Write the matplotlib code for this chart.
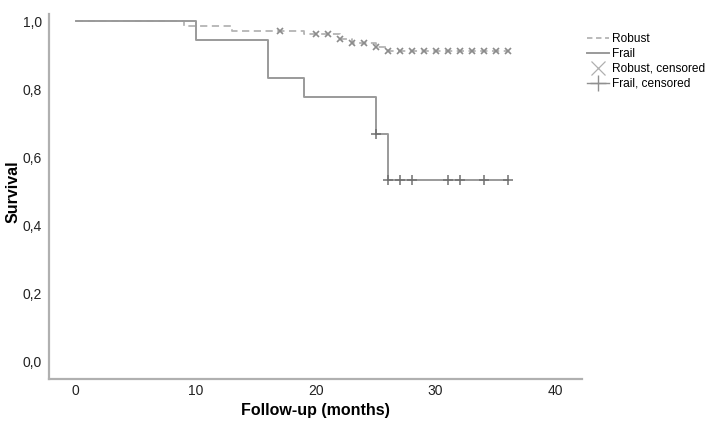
import matplotlib
matplotlib.use("Agg")
import matplotlib.pyplot as plt
from matplotlib.lines import Line2D

plt.rcParams['font.family'] = ['Liberation Sans', 'DejaVu Sans']

# Kaplan-Meier steps
robust_t = [0, 9, 13, 19, 22, 23, 25, 26, 36]
robust_s = [1.0, 0.986, 0.972, 0.961, 0.947, 0.935, 0.925, 0.912, 0.912]
robust_cens_t = [17, 20, 21, 22, 23, 24, 25, 26, 27, 28, 29, 30, 31, 32, 33, 34, 35, 36]
robust_cens_s = [0.972, 0.961, 0.961, 0.947, 0.935, 0.935, 0.925,
                 0.912, 0.912, 0.912, 0.912, 0.912, 0.912, 0.912, 0.912, 0.912, 0.912, 0.912]

frail_t = [0, 10, 16, 19, 25, 26, 36]
frail_s = [1.0, 0.944, 0.833, 0.778, 0.667, 0.533, 0.533]
frail_cens_t = [25, 26, 27, 28, 31, 32, 34, 36]
frail_cens_s = [0.667, 0.533, 0.533, 0.533, 0.533, 0.533, 0.533, 0.533]

x_ticks = [0, 10, 20, 30, 40]
y_ticks = [0.0, 0.2, 0.4, 0.6, 0.8, 1.0]
y_labels = ['0,0', '0,2', '0,4', '0,6', '0,8', '1,0']

fig = plt.figure(figsize=(7.08, 4.30), dpi=100)
ax = fig.add_axes([0.069, 0.119, 0.753, 0.848])

ax.step(robust_t, robust_s, where='post', color='#b4b4b4', lw=1.3,
        linestyle=(0, (4, 2.5)), zorder=2)
ax.step(frail_t, frail_s, where='post', color='#9a9a9a', lw=1.4, zorder=3)
ax.plot(robust_cens_t, robust_cens_s, 'x', color='#8c8c8c', ms=5, mew=1.2, zorder=4)
ax.plot(frail_cens_t, frail_cens_s, '+', color='#707070', ms=7, mew=1.1, zorder=4)

ax.set_xlim(-2.25, 42.2)
ax.set_ylim(-0.05, 1.02)
ax.set_xticks(x_ticks)
ax.set_yticks(y_ticks)
ax.set_yticklabels(y_labels)
ax.tick_params(length=0, labelsize=10, colors='#222222')
ax.tick_params(axis='x', pad=4)
ax.tick_params(axis='y', pad=5)

for side in ['top', 'right']:
    ax.spines[side].set_visible(False)
for side in ['left', 'bottom']:
    ax.spines[side].set_color('#b0b0b0')
    ax.spines[side].set_linewidth(1.6)

fig.text(315 / 708, 1 - 411 / 430, 'Follow-up (months)', fontsize=11.5,
         fontweight='bold', ha='center', va='center')
fig.text(13 / 708, 1 - 192 / 430, 'Survival', fontsize=11.5, fontweight='bold',
         rotation=90, ha='center', va='center')

handles = [
    Line2D([], [], color='#b4b4b4', lw=1.3, linestyle=(0, (3, 2))),
    Line2D([], [], color='#9a9a9a', lw=1.4),
    Line2D([], [], color='#b0b0b0', marker='x', linestyle='none', ms=10, mew=0.9),
    Line2D([], [], color='#909090', marker='+', lw=1.0, ms=12, mew=1.0),
]
labels = ['Robust', 'Frail', 'Robust, censored', 'Frail, censored']
fig.legend(handles, labels, loc='upper left', bbox_to_anchor=(0.822, 0.935),
           frameon=False, fontsize=8.6, handlelength=1.9, handletextpad=0.25,
           labelspacing=0.25, borderaxespad=0)

fig.savefig('out.png', dpi=100)
